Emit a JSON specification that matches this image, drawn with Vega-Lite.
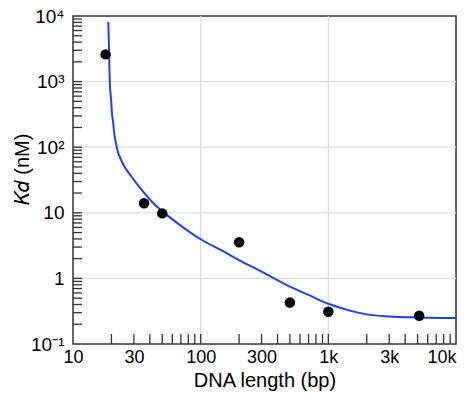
{
  "$schema": "https://vega.github.io/schema/vega-lite/v6.json",
  "autosize": {"type": "none"},
  "padding": {"left": 73, "top": 16, "right": 10, "bottom": 51},
  "width": 383,
  "height": 328,
  "background": "white",
  "view": {"stroke": "#333333", "strokeWidth": 1.5},
  "config": {
    "font": "Liberation Sans",
    "axis": {
      "grid": false,
      "domain": false,
      "ticks": false,
      "labelFontSize": 18,
      "labelColor": "black",
      "titleFontSize": 20,
      "titleFontWeight": "normal",
      "titleColor": "black"
    }
  },
  "datasets": {
    "points": [
      {"length": 18, "kd": 2600},
      {"length": 36, "kd": 14},
      {"length": 50, "kd": 9.8},
      {"length": 200, "kd": 3.55},
      {"length": 500, "kd": 0.43},
      {"length": 1000, "kd": 0.31},
      {"length": 5150, "kd": 0.27}
    ],
    "curve": [
      {"length": 18.9, "kd": 8100},
      {"length": 19.15, "kd": 3100},
      {"length": 19.4, "kd": 1000},
      {"length": 19.95, "kd": 480},
      {"length": 20.1, "kd": 370},
      {"length": 20.7, "kd": 224},
      {"length": 20.9, "kd": 183},
      {"length": 22.0, "kd": 100},
      {"length": 24.5, "kd": 57},
      {"length": 28.8, "kd": 35.5},
      {"length": 34.5, "kd": 22.3},
      {"length": 42.6, "kd": 14},
      {"length": 54.2, "kd": 9.3},
      {"length": 68.9, "kd": 6.5},
      {"length": 100, "kd": 3.95},
      {"length": 150, "kd": 2.6},
      {"length": 200, "kd": 1.9},
      {"length": 300, "kd": 1.27},
      {"length": 500, "kd": 0.75},
      {"length": 700, "kd": 0.56},
      {"length": 1000, "kd": 0.41},
      {"length": 1500, "kd": 0.32},
      {"length": 2000, "kd": 0.283},
      {"length": 3000, "kd": 0.263},
      {"length": 5000, "kd": 0.254},
      {"length": 10000, "kd": 0.249}
    ],
    "xgrid": [{"length": 100}, {"length": 1000}],
    "ygrid": [{"kd": 1}, {"kd": 10}, {"kd": 100}, {"kd": 1000}],
    "xticks": [{"length": 20},{"length": 30},{"length": 40},{"length": 50},{"length": 60},{"length": 70},{"length": 80},{"length": 90},{"length": 100},{"length": 200},{"length": 300},{"length": 400},{"length": 500},{"length": 600},{"length": 700},{"length": 800},{"length": 900},{"length": 1000},{"length": 2000},{"length": 3000},{"length": 4000},{"length": 5000},{"length": 6000},{"length": 7000},{"length": 8000},{"length": 9000}],
    "yticks": [{"kd": 0.2},{"kd": 0.3},{"kd": 0.4},{"kd": 0.5},{"kd": 0.6},{"kd": 0.7},{"kd": 0.8},{"kd": 0.9},{"kd": 1},{"kd": 2},{"kd": 3},{"kd": 4},{"kd": 5},{"kd": 6},{"kd": 7},{"kd": 8},{"kd": 9},{"kd": 10},{"kd": 20},{"kd": 30},{"kd": 40},{"kd": 50},{"kd": 60},{"kd": 70},{"kd": 80},{"kd": 90},{"kd": 100},{"kd": 200},{"kd": 300},{"kd": 400},{"kd": 500},{"kd": 600},{"kd": 700},{"kd": 800},{"kd": 900},{"kd": 1000},{"kd": 2000},{"kd": 3000},{"kd": 4000},{"kd": 5000},{"kd": 6000},{"kd": 7000},{"kd": 8000},{"kd": 9000}]
  },
  "layer": [
    {
      "data": {"name": "xgrid"},
      "mark": {"type": "rule", "color": "#dcdcdc", "strokeWidth": 1.2},
      "encoding": {
        "x": {"field": "length", "type": "quantitative", "scale": {"type": "log", "domain": [10, 10000], "nice": false}}
      }
    },
    {
      "data": {"name": "ygrid"},
      "mark": {"type": "rule", "color": "#dcdcdc", "strokeWidth": 1.2},
      "encoding": {
        "y": {"field": "kd", "type": "quantitative", "scale": {"type": "log", "domain": [0.1, 10000], "nice": false}}
      }
    },
    {
      "data": {"name": "xticks"},
      "mark": {"type": "tick", "orient": "vertical", "color": "#333333", "size": 10, "thickness": 1.3, "yOffset": -5, "opacity": 1},
      "encoding": {
        "x": {"field": "length", "type": "quantitative"},
        "y": {"datum": 0.1, "type": "quantitative"}
      }
    },
    {
      "data": {"name": "yticks"},
      "mark": {"type": "tick", "orient": "horizontal", "color": "#333333", "size": 9, "thickness": 1.3, "xOffset": 4.5, "opacity": 1},
      "encoding": {
        "y": {"field": "kd", "type": "quantitative"},
        "x": {"datum": 10, "type": "quantitative"}
      }
    },
    {
      "data": {"name": "curve"},
      "mark": {"type": "line", "color": "#1f3fff", "strokeWidth": 2, "interpolate": "monotone", "clip": true},
      "encoding": {
        "x": {"field": "length", "type": "quantitative"},
        "y": {"field": "kd", "type": "quantitative"}
      }
    },
    {
      "data": {"name": "points"},
      "mark": {"type": "circle", "color": "black", "opacity": 1, "size": 110},
      "encoding": {
        "x": {
          "field": "length",
          "type": "quantitative",
          "axis": {
            "title": "DNA length (bp)",
            "titlePadding": 4,
            "values": [10,30,100,300,1000,3000,10000],
            "labelExpr": "datum.value === 10 ? '10' : datum.value === 30 ? '30' : datum.value === 100 ? '100' : datum.value === 300 ? '300' : datum.value === 1000 ? '1k' : datum.value === 3000 ? '3k' : datum.value === 10000 ? '10k' : ''",
            "labelFlush": false,
            "labelOverlap": false,
            "labelAlign": {"condition": {"test": "datum.value === 10000", "value": "right"}, "value": "center"},
            "labelPadding": 4
          }
        },
        "y": {
          "field": "kd",
          "type": "quantitative",
          "axis": {
            "title": "𝐾𝑑 (nM)",
            "titleX": -41,
            "titleY": 153,
            "values": [0.1,1,10,100,1000,10000],
            "labelExpr": "datum.value === 10000 ? '10⁴' : datum.value === 1000 ? '10³' : datum.value === 100 ? '10²' : datum.value === 10 ? '10' : datum.value === 1 ? '1' : datum.value === 0.1 ? '10⁻¹' : ''",
            "labelFlush": false,
            "labelOverlap": false,
            "labelFontSize": 19,
            "labelPadding": 9
          }
        }
      }
    }
  ]
}
